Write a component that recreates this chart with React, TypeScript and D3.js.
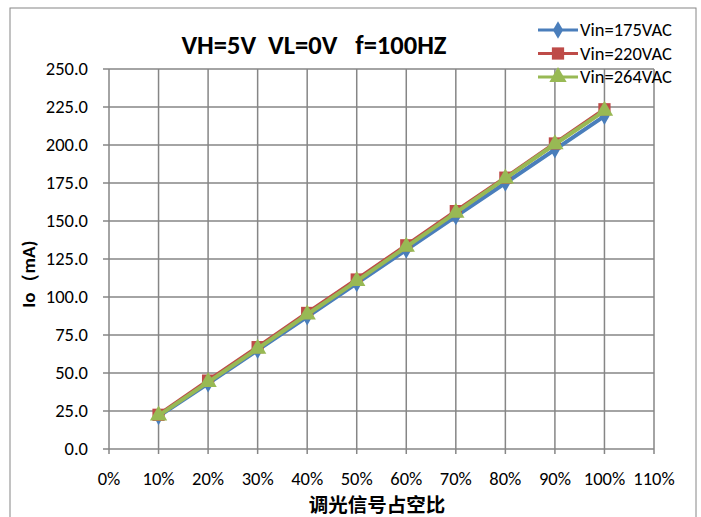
import * as d3 from 'd3'

const duty = [10, 20, 30, 40, 50, 60, 70, 80, 90, 100]
const vin175 = [21.5, 43, 65, 87, 109, 131, 153, 175, 197, 219]
const vin220 = [22.5, 45, 67, 89.5, 111.5, 134, 156.5, 178.5, 201, 223.5]
const vin264 = [22, 44, 66, 88.5, 110.5, 133, 155.5, 178, 200.5, 222.5]
const xTicks = [0, 10, 20, 30, 40, 50, 60, 70, 80, 90, 100, 110]
const yTicks = [0, 25, 50, 75, 100, 125, 150, 175, 200, 225, 250]

const series = [
  { name: 'Vin=175VAC', values: vin175, color: '#4a7ebb', shape: d3.symbolDiamond, size: 90 },
  { name: 'Vin=220VAC', values: vin220, color: '#be4b48', shape: d3.symbolSquare, size: 150 },
  { name: 'Vin=264VAC', values: vin264, color: '#98b954', shape: d3.symbolTriangle, size: 130 },
]

const W = 701
const H = 517
const font = 'Calibri, Carlito, Lato, "Open Sans", sans-serif'

export default function App() {
  const x = d3.scaleLinear().domain([0, 110]).range([109, 654])
  const y = d3.scaleLinear().domain([0, 250]).range([449, 69])
  const grid = '#868686'

  return (
    <svg width={W} height={H} style={{ position: 'absolute', left: 0, top: 0 }}>
      <rect x={0} y={0} width={W} height={H} fill="#fff" />
      <rect x={10} y={8} width={686} height={H + 10} fill="none" stroke={grid} strokeWidth={1} />

      {/* grid */}
      {yTicks.map(t => (
        <line key={'gy' + t} x1={x(0) - 6} x2={x(110)} y1={y(t)} y2={y(t)} stroke={grid} strokeWidth={1.5} />
      ))}
      {xTicks.map(t => (
        <line key={'gx' + t} x1={x(t)} x2={x(t)} y1={y(250)} y2={y(0) + 5} stroke={grid} strokeWidth={1.5} />
      ))}

      {/* tick labels */}
      {yTicks.map(t => (
        <text key={'ly' + t} x={88} y={y(t)} dy="0.35em" textAnchor="end"
          fontFamily={font} fontSize={18.5} fill="#000">{t.toFixed(1)}</text>
      ))}
      {xTicks.map(t => (
        <text key={'lx' + t} x={x(t)} y={485} textAnchor="middle"
          fontFamily={font} fontSize={18.5} fill="#000">{t + '%'}</text>
      ))}

      {/* titles */}
      <text x={314} y={54} textAnchor="middle" fontFamily={font} fontSize={26.5} fontWeight="bold"
        style={{ whiteSpace: 'pre' }}>{'VH=5V  VL=0V   f=100HZ'}</text>
      <text x={377} y={512} textAnchor="middle" fontFamily='"Noto Sans CJK SC", sans-serif'
        fontSize={19.5} fontWeight="bold">调光信号占空比</text>
      <text transform={`translate(35,${y(115)}) rotate(-90)`} textAnchor="middle"
        fontFamily={font} fontSize={19} fontWeight="bold">Io（mA)</text>

      {/* series */}
      {series.map(s => {
        const line = d3.line<number>().x((_, i) => x(duty[i])).y(v => y(v))
        const sym = d3.symbol().type(s.shape).size(s.size)
        return (
          <g key={s.name}>
            <path d={line(s.values) ?? ''} fill="none" stroke={s.color} strokeWidth={4} />
            {s.values.map((v, i) => (
              <path key={i} transform={`translate(${x(duty[i])},${y(v)})`} d={sym() ?? ''} fill={s.color} />
            ))}
          </g>
        )
      })}

      {/* legend */}
      {series.map((s, i) => {
        const ly = 30 + i * 23.5
        const sym = d3.symbol().type(s.shape).size(s.size)
        return (
          <g key={'lg' + s.name}>
            <line x1={538} x2={578} y1={ly} y2={ly} stroke={s.color} strokeWidth={3} />
            <path transform={`translate(558,${ly})`} d={sym() ?? ''} fill={s.color} />
            <text x={580} y={ly} dy="0.35em" fontFamily={font} fontSize={18.5}>{s.name}</text>
          </g>
        )
      })}
    </svg>
  )
}
